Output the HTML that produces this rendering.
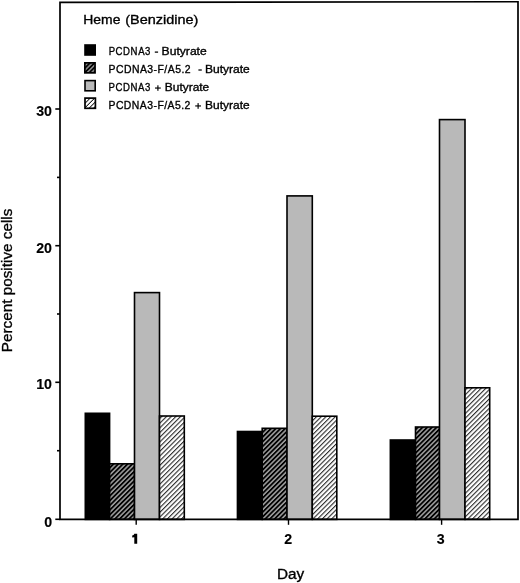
<!DOCTYPE html>
<html><head><meta charset="utf-8">
<style>
html,body{margin:0;padding:0;background:#fff;}
body{width:520px;height:583px;overflow:hidden;}
svg{display:block;filter:grayscale(1);}
text{font-family:"Liberation Sans",sans-serif;fill:#000;stroke:#000;stroke-width:0.35px;}
</style></head>
<body>
<svg width="520" height="583" viewBox="0 0 520 583">
<defs>
<pattern id="dh" patternUnits="userSpaceOnUse" width="3.32" height="10" patternTransform="rotate(45)">
<rect x="0" y="0" width="3.32" height="10" fill="#000"/>
<rect x="1.2" y="0" width="1.0" height="10" fill="#f4f4f4"/>
</pattern>
<pattern id="lh" patternUnits="userSpaceOnUse" width="3.32" height="10" patternTransform="rotate(45)">
<rect x="0" y="0" width="3.32" height="10" fill="#fff"/>
<rect x="0.15" y="0" width="0.92" height="10" fill="#000"/>
</pattern>
<pattern id="dhl" patternUnits="userSpaceOnUse" width="3.18" height="10" patternTransform="rotate(45)">
<rect x="0" y="0" width="3.18" height="10" fill="#000"/>
<rect x="1.17" y="0" width="0.9" height="10" fill="#e8e8e8"/>
</pattern>
<pattern id="lhl" patternUnits="userSpaceOnUse" width="3.18" height="10" patternTransform="rotate(45)">
<rect x="0" y="0" width="3.18" height="10" fill="#fff"/>
<rect x="2.34" y="0" width="1.0" height="10" fill="#000"/>
</pattern>
</defs>
<rect x="85.30" y="413.30" width="24.30" height="106.10" fill="#000" stroke="#000" stroke-width="1.6"/>
<rect x="109.60" y="463.80" width="24.90" height="55.60" fill="url(#dh)" stroke="#000" stroke-width="1.6"/>
<rect x="134.50" y="292.60" width="25.00" height="226.80" fill="#b9b9b9" stroke="#000" stroke-width="1.6"/>
<rect x="159.50" y="416.00" width="24.80" height="103.40" fill="url(#lh)" stroke="#000" stroke-width="1.6"/>
<rect x="237.45" y="431.50" width="24.75" height="87.90" fill="#000" stroke="#000" stroke-width="1.6"/>
<rect x="262.20" y="428.30" width="24.80" height="91.10" fill="url(#dh)" stroke="#000" stroke-width="1.6"/>
<rect x="287.00" y="195.90" width="25.30" height="323.50" fill="#b9b9b9" stroke="#000" stroke-width="1.6"/>
<rect x="312.30" y="416.20" width="24.50" height="103.20" fill="url(#lh)" stroke="#000" stroke-width="1.6"/>
<rect x="390.35" y="440.00" width="25.15" height="79.40" fill="#000" stroke="#000" stroke-width="1.6"/>
<rect x="415.50" y="427.00" width="24.00" height="92.40" fill="url(#dh)" stroke="#000" stroke-width="1.6"/>
<rect x="439.50" y="119.60" width="25.50" height="399.80" fill="#b9b9b9" stroke="#000" stroke-width="1.6"/>
<rect x="465.00" y="387.80" width="24.70" height="131.60" fill="url(#lh)" stroke="#000" stroke-width="1.6"/>
<!-- frame -->
<path d="M60,2.3 L518,1.75 L518,519.4 L60,519.4 Z" fill="none" stroke="#000" stroke-width="1.7" stroke-linejoin="miter"/>
<g stroke="#000" stroke-width="1.6">
<line x1="55.3" y1="109" x2="60" y2="109"/>
<line x1="55.3" y1="245.7" x2="60" y2="245.7"/>
<line x1="55.3" y1="382.3" x2="60" y2="382.3"/>
<line x1="55.3" y1="519.3" x2="60" y2="519.3"/>
<line x1="57" y1="177.4" x2="60" y2="177.4"/>
<line x1="57" y1="314" x2="60" y2="314"/>
<line x1="57" y1="450.7" x2="60" y2="450.7"/>
</g>
<g stroke="#000" stroke-width="1.4">
<line x1="136.2" y1="519" x2="136.2" y2="524.8"/>
<line x1="288.5" y1="519" x2="288.5" y2="524.8"/>
<line x1="441.6" y1="519" x2="441.6" y2="524.8"/>
</g>
<text x="52.0" y="115.8" font-size="14.2" font-weight="bold" text-anchor="end" style="stroke-width:0.15px">30</text>
<text x="52.0" y="253.0" font-size="14.2" font-weight="bold" text-anchor="end" style="stroke-width:0.15px">20</text>
<text x="52.0" y="389.0" font-size="14.2" font-weight="bold" text-anchor="end" style="stroke-width:0.15px">10</text>
<text x="52.2" y="526.5" font-size="14.2" font-weight="bold" text-anchor="end" style="stroke-width:0.15px">0</text>
<path d="M134.3,533.7 L137.2,533.7 L137.2,543.7 L134.3,543.7 L134.3,537.2 L132.2,537.6 L132.2,535.6 C133.4,535.3 134.0,534.6 134.3,533.7 Z" fill="#000"/>
<text x="288.25" y="543.8" font-size="14.2" font-weight="bold" text-anchor="middle" style="stroke-width:0.15px">2</text>
<text x="440.75" y="543.9" font-size="14.2" font-weight="bold" text-anchor="middle" style="stroke-width:0.15px">3</text>
<text x="276.97" y="578.7" font-size="15.2" textLength="27.28" lengthAdjust="spacingAndGlyphs">Day</text>
<text transform="translate(12.3,352.22) rotate(-90)" x="0" y="0" font-size="15.3" textLength="143.61" lengthAdjust="spacingAndGlyphs">Percent positive cells</text>
<text x="83.29" y="24.4" font-size="13.3" textLength="37.10" lengthAdjust="spacingAndGlyphs">Heme</text>
<text x="125.23" y="24.4" font-size="13.3" textLength="73.18" lengthAdjust="spacingAndGlyphs">(Benzidine)</text>
<rect x="84.2" y="44.2" width="11.8" height="11.6" fill="#000"/>
<rect x="84.85" y="62.85" width="10.2" height="10" fill="url(#dhl)" stroke="#000" stroke-width="1.7"/>
<rect x="85" y="80.6" width="10.2" height="10.2" fill="#b9b9b9" stroke="#000" stroke-width="1.6"/>
<rect x="85" y="98.1" width="10.4" height="10.2" fill="url(#lhl)" stroke="#000" stroke-width="1.7"/>
<text x="108.63" y="55.3" font-size="11.2" letter-spacing="0.7" textLength="42.41" lengthAdjust="spacingAndGlyphs">PCDNA3</text>
<rect x="154.8" y="51.48" width="3.30" height="1.25" fill="#000"/>
<text x="161.63" y="55.3" font-size="11.2" textLength="45.10" lengthAdjust="spacingAndGlyphs">Butyrate</text>
<text x="108.46" y="73.2" font-size="11.2" letter-spacing="0.5" textLength="82.63" lengthAdjust="spacingAndGlyphs">PCDNA3-F/A5.2</text>
<rect x="198.4" y="69.38" width="3.40" height="1.25" fill="#000"/>
<text x="205.04" y="73.2" font-size="11.2" textLength="44.79" lengthAdjust="spacingAndGlyphs">Butyrate</text>
<text x="108.43" y="90.8" font-size="11.2" letter-spacing="0.7" textLength="42.51" lengthAdjust="spacingAndGlyphs">PCDNA3</text>
<rect x="155" y="87.47" width="5.80" height="1.15" fill="#000"/><rect x="157.33" y="85.3" width="1.15" height="5.50" fill="#000"/>
<text x="164.85" y="90.8" font-size="11.2" textLength="44.38" lengthAdjust="spacingAndGlyphs">Butyrate</text>
<text x="108.47" y="108.7" font-size="11.2" letter-spacing="0.5" textLength="82.42" lengthAdjust="spacingAndGlyphs">PCDNA3-F/A5.2</text>
<rect x="195.2" y="105.37" width="5.80" height="1.15" fill="#000"/><rect x="197.53" y="103.1" width="1.15" height="5.70" fill="#000"/>
<text x="205.14" y="108.7" font-size="11.2" textLength="44.48" lengthAdjust="spacingAndGlyphs">Butyrate</text>
</svg>
</body></html>
